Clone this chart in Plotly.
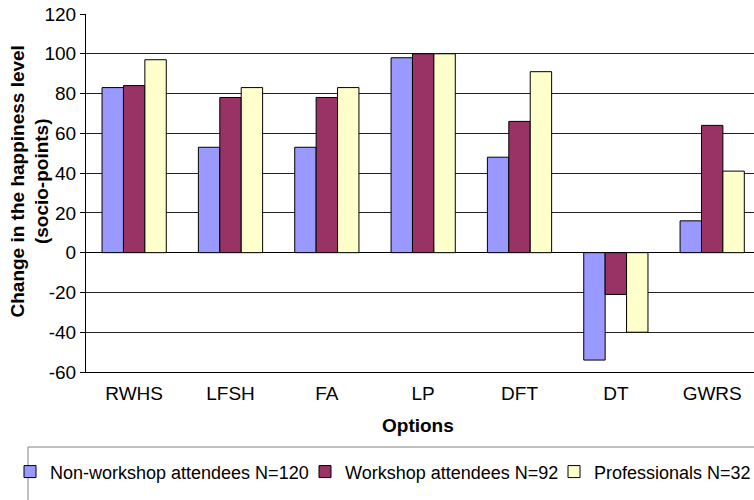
import plotly.graph_objects as go

categories = ["RWHS", "LFSH", "FA", "LP", "DFT", "DT", "GWRS"]
non_workshop = [83, 53, 53, 98, 48, -54, 16]
workshop = [84, 78, 78, 100, 66, -21, 64]
professionals = [97, 83, 83, 100, 91, -40, 41]
series_names = ["Non-workshop attendees N=120", "Workshop attendees N=92", "Professionals N=32"]
series_colors = ["#9999FF", "#993366", "#FFFFCC"]
y_ticks = [-60, -40, -20, 0, 20, 40, 60, 80, 100, 120]
y_tick_labels = [str(v) for v in y_ticks]

FONT = "Liberation Sans, Arial, sans-serif"

fig = go.Figure()
for vals, name, col, lg in zip([non_workshop, workshop, professionals], series_names, series_colors,
                               ["legend", "legend2", "legend3"]):
    fig.add_trace(go.Bar(x=categories, y=vals, name=name, legend=lg,
                         marker=dict(color=col, line=dict(color="black", width=1))))

legend_common = dict(orientation="h", yanchor="middle", xanchor="left", y=-0.279,
                     bgcolor="rgba(0,0,0,0)", borderwidth=0,
                     font=dict(family=FONT, size=18, color="black"))

fig.update_layout(
    width=754, height=500,
    margin=dict(l=86, r=0, t=14, b=128, autoexpand=False),
    paper_bgcolor="white", plot_bgcolor="white",
    barmode="group", bargap=1/3, bargroupgap=0,
    font=dict(family=FONT, size=19, color="black"),
    xaxis=dict(type="category", range=[-0.5, 6.434], showgrid=False, zeroline=False,
               showline=True, linecolor="black", linewidth=1, ticks="",
               ticklabelstandoff=4, tickfont=dict(size=19)),
    xaxis2=dict(overlaying="x", anchor="free", position=1/3, range=[-0.5, 6.434],
                tick0=-0.5, dtick=1, showticklabels=False, ticks="outside", ticklen=5,
                tickcolor="black", showgrid=False, zeroline=False, showline=False),
    yaxis=dict(range=[-60, 120], tickvals=y_ticks, ticktext=y_tick_labels,
               showgrid=True, gridcolor="#222222", gridwidth=1,
               zeroline=True, zerolinecolor="black", zerolinewidth=1,
               showline=True, linecolor="black", linewidth=1, ticks="outside", ticklen=5,
               tickcolor="black", tickfont=dict(size=19)),
    legend=dict(x=(10 - 86) / 668, **legend_common),
    legend2=dict(x=(305 - 86) / 668, **legend_common),
    legend3=dict(x=(554 - 86) / 668, **legend_common),
    showlegend=True,
)

fig.add_annotation(text="<b>Change in the happiness level<br>(socio-points)</b>", textangle=-90,
                   xref="paper", yref="paper", x=(29 - 86) / 668, y=(372 - 181.5) / 358,
                   xanchor="center", yanchor="middle", showarrow=False,
                   font=dict(family=FONT, size=19, color="black"))
fig.add_annotation(text="<b>Options</b>", xref="paper", yref="paper",
                   x=(418 - 86) / 668, y=(372 - 425) / 358, xanchor="center", yanchor="middle",
                   showarrow=False, font=dict(family=FONT, size=19, color="black"))

fig.add_shape(type="rect", xref="paper", yref="paper", x0=(28 - 86) / 668, x1=1.05,
              y0=(372 - 447) / 358, y1=-0.6, line=dict(color="#808080", width=1),
              fillcolor="rgba(0,0,0,0)")

fig.write_html("out.html", config={"displayModeBar": False},
               post_script="document.body.style.margin='0';document.body.style.overflow='hidden';")
